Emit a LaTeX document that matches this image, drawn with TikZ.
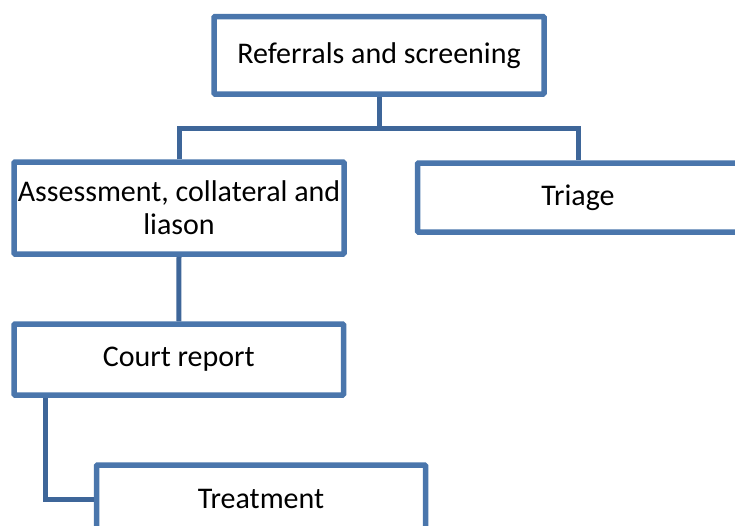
\documentclass[tikz,border=0pt]{standalone}
\usepackage{fontspec}
\setmainfont{Carlito}
\usepackage{tikz}
\definecolor{boxblue}{RGB}{74,118,172}
\definecolor{linkblue}{RGB}{62,102,153}

\begin{document}
\begin{tikzpicture}[x=1pt,y=-1pt,
    stage/.style={draw=boxblue, line width=5.5pt, rounded corners=1pt, inner sep=0pt,
                  align=center, font=\fontsize{30}{33}\selectfont},
    link/.style={draw=linkblue, line width=5pt}]
             \useasboundingbox (0,0) rectangle (735,525);
             \clip (0,0) rectangle (735,525);
             \node[stage, minimum width=330pt, minimum height=77.5pt] (refer) at (379,55.25) {Referrals and screening};
             \node[stage, minimum width=330pt, minimum height=92pt] (assess) at (179,208) {Assessment, collateral and\\liason};
             \node[stage, minimum width=321pt, minimum height=69pt] (triage) at (578,197.5) {Triage};
             \node[stage, minimum width=329.5pt, minimum height=71pt] (court) at (178.75,359.5) {Court report};
             \node[stage, minimum width=329pt, minimum height=68pt] (treat) at (261,499) {Treatment};
             \coordinate (bar) at (379,128);
             \draw[link] (refer.south) -- (bar);
             \draw[link] (assess.north) |- (bar) -| (triage.north);
             \draw[link] (assess.south) -- (court.north);
             \draw[link] ([xshift=34pt]court.south west) |- (treat.west);
            \end{tikzpicture}
\end{document}
